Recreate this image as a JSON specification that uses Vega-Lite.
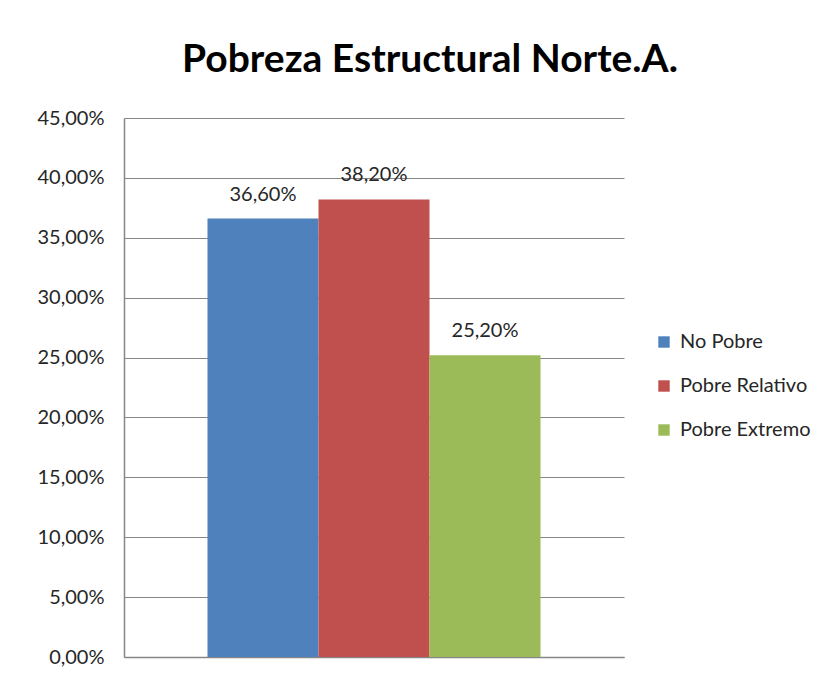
{
  "$schema": "https://vega.github.io/schema/vega-lite/v6.json",
  "width": 500,
  "height": 539,
  "autosize": "none",
  "padding": {"left": 124, "top": 118, "right": 206, "bottom": 16},
  "background": "white",
  "config": {
    "locale": {"number": {"decimal": ",", "thousands": ".", "grouping": [3], "currency": ["", " €"]}},
    "view": {"stroke": null},
    "font": "Lato"
  },
  "title": {
    "text": "Pobreza Estructural Norte.A.",
    "font": "Lato",
    "fontSize": 39,
    "fontWeight": "bold",
    "color": "#000000",
    "anchor": "middle",
    "dx": 56,
    "offset": 28
  },
  "data": {
    "values": [
      {"serie": "No Pobre", "valor": 0.366},
      {"serie": "Pobre Relativo", "valor": 0.382},
      {"serie": "Pobre Extremo", "valor": 0.252}
    ]
  },
  "encoding": {
    "x": {
      "field": "serie",
      "type": "nominal",
      "sort": ["No Pobre", "Pobre Relativo", "Pobre Extremo"],
      "scale": {"paddingInner": 0, "paddingOuter": 0.752},
      "axis": {"title": null, "labels": false, "ticks": false, "domainColor": "#868686", "domainWidth": 1.5}
    },
    "y": {
      "field": "valor",
      "type": "quantitative",
      "scale": {"domain": [0, 0.45], "nice": false},
      "axis": {
        "title": null,
        "values": [0, 0.05, 0.1, 0.15, 0.2, 0.25, 0.3, 0.35, 0.4, 0.45],
        "format": ".2%",
        "ticks": false,
        "labelPadding": 20,
        "labelFontSize": 20,
        "labelColor": "#262626",
        "labelFont": "Lato",
        "gridColor": "#868686",
        "gridWidth": 1.2,
        "domainColor": "#868686",
        "domainWidth": 1.5
      }
    }
  },
  "layer": [
    {
      "mark": {"type": "bar"},
      "encoding": {
        "color": {
          "field": "serie",
          "type": "nominal",
          "sort": ["No Pobre", "Pobre Relativo", "Pobre Extremo"],
          "scale": {"domain": ["No Pobre", "Pobre Relativo", "Pobre Extremo"], "range": ["#4F81BD", "#C0504D", "#9BBB59"]},
          "legend": {
            "title": null,
            "orient": "none",
            "legendX": 530,
            "legendY": 214,
            "symbolType": "square",
            "symbolSize": 130,
            "symbolStrokeWidth": 0,
            "labelFontSize": 20,
            "labelFont": "Lato",
            "labelColor": "#262626",
            "rowPadding": 24,
            "labelOffset": 6
          }
        }
      }
    },
    {
      "mark": {"type": "text", "baseline": "bottom", "dy": -14, "fontSize": 20, "font": "Lato", "color": "#262626"},
      "encoding": {
        "text": {"field": "valor", "type": "quantitative", "format": ".2%"}
      }
    }
  ]
}
